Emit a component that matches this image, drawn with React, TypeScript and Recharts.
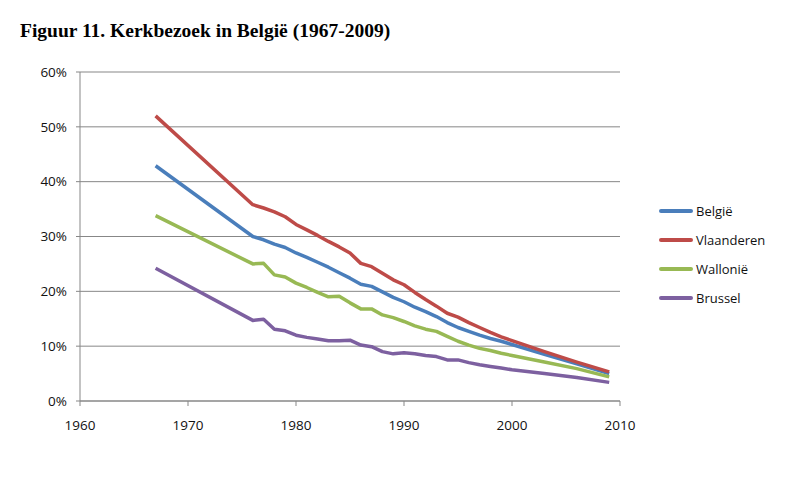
import React from "react";
import { LineChart, Line, XAxis, YAxis, CartesianGrid } from "recharts";

const years = [
  1967, 1976, 1977, 1978, 1979, 1980, 1981, 1982, 1983, 1984, 1985, 1986,
  1987, 1988, 1989, 1990, 1991, 1992, 1993, 1994, 1995, 1996, 1997, 1998,
  1999, 2000, 2003, 2006, 2009,
];

const belgie = [
  42.9, 30.0, 29.4, 28.6, 28.0, 27.0, 26.2, 25.3, 24.4, 23.4, 22.4, 21.3,
  20.9, 19.9, 18.9, 18.1, 17.1, 16.3, 15.4, 14.3, 13.4, 12.7, 12.0, 11.4,
  10.9, 10.3, 8.5, 6.8, 5.0,
];

const vlaanderen = [
  52.0, 35.8, 35.2, 34.5, 33.6, 32.2, 31.2, 30.2, 29.1, 28.1, 27.0, 25.1,
  24.5, 23.3, 22.1, 21.2, 19.8, 18.5, 17.3, 16.0, 15.3, 14.3, 13.4, 12.5,
  11.7, 11.0, 9.0, 7.1, 5.3,
];

const wallonie = [
  33.8, 25.0, 25.1, 23.0, 22.6, 21.5, 20.7, 19.8, 19.0, 19.1, 17.9, 16.8,
  16.8, 15.7, 15.2, 14.5, 13.7, 13.1, 12.7, 11.8, 10.9, 10.2, 9.6, 9.2,
  8.7, 8.3, 7.1, 5.9, 4.4,
];

const brussel = [
  24.2, 14.7, 14.9, 13.1, 12.8, 12.0, 11.6, 11.3, 11.0, 11.0, 11.1, 10.2,
  9.9, 9.0, 8.6, 8.8, 8.6, 8.3, 8.1, 7.5, 7.5, 7.0, 6.6, 6.3, 6.0, 5.7,
  5.0, 4.3, 3.4,
];

const xTicks = [1960, 1970, 1980, 1990, 2000, 2010];
const yTicks = [0, 10, 20, 30, 40, 50, 60];

const series = [
  { key: "belgie", name: "België", color: "#4A7EBB" },
  { key: "vlaanderen", name: "Vlaanderen", color: "#BE4B48" },
  { key: "wallonie", name: "Wallonië", color: "#98B954" },
  { key: "brussel", name: "Brussel", color: "#7D60A0" },
];

const data = years.map((year, i) => ({
  year,
  belgie: belgie[i],
  vlaanderen: vlaanderen[i],
  wallonie: wallonie[i],
  brussel: brussel[i],
}));

const font = "'Open Sans', sans-serif";
const gridColor = "#878787";

// legend drawn as plain html so it doesn't eat into the plot area
const LegendBox = () => (
  <div
    style={{
      position: "absolute",
      left: 659,
      top: 196,
      fontFamily: font,
      fontSize: 13,
      color: "#111",
    }}
  >
    {series.map((s) => (
      <div
        key={s.key}
        style={{ display: "flex", alignItems: "center", height: 29 }}
      >
        <div
          style={{
            width: 34,
            height: 4,
            borderRadius: 2,
            background: s.color,
            marginRight: 3,
          }}
        />
        <span>{s.name}</span>
      </div>
    ))}
  </div>
);

export default function App() {
  return (
    <div
      style={{
        position: "absolute",
        left: 0,
        top: 0,
        width: 796,
        height: 493,
        background: "#fff",
      }}
    >
      <div
        style={{
          position: "absolute",
          left: 20,
          top: 20,
          fontFamily: "'Liberation Serif', 'Times New Roman', serif",
          fontWeight: "bold",
          fontSize: 19.5,
          color: "#000",
          whiteSpace: "nowrap",
        }}
      >
        Figuur 11. Kerkbezoek in België (1967-2009)
      </div>
      <LineChart
        width={796}
        height={493}
        data={data}
        margin={{ top: 72, right: 176, bottom: 62, left: 0 }}
      >
        <CartesianGrid vertical={false} stroke={gridColor} />
        <XAxis
          dataKey="year"
          type="number"
          domain={[1960, 2010]}
          ticks={xTicks}
          height={30}
          stroke={gridColor}
          tickSize={5}
          tickMargin={14}
          tick={{ fill: "#111", fontFamily: font, fontSize: 13.5 }}
        />
        <YAxis
          domain={[0, 60]}
          ticks={yTicks}
          width={80}
          stroke={gridColor}
          tickSize={4}
          tickMargin={9}
          tickFormatter={(v) => `${v}%`}
          tick={{ fill: "#111", fontFamily: font, fontSize: 13.5 }}
        />
        {series.map((s) => (
          <Line
            key={s.key}
            dataKey={s.key}
            name={s.name}
            stroke={s.color}
            strokeWidth={3.5}
            strokeLinejoin="round"
            type="linear"
            dot={false}
            isAnimationActive={false}
          />
        ))}
      </LineChart>
      <LegendBox />
    </div>
  );
}
